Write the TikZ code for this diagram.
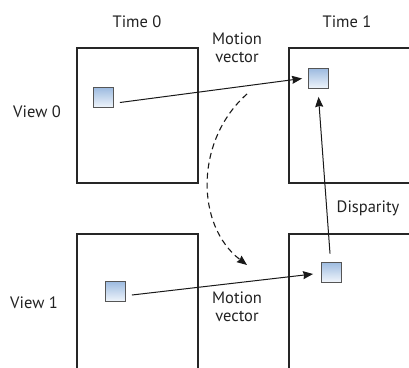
\documentclass[tikz,border=0pt]{standalone}
\usepackage{fontspec}
\setmainfont{PT Sans}
\usetikzlibrary{arrows.meta}
\definecolor{txt}{HTML}{222222}
\definecolor{sqtop}{HTML}{9DBBE0}
\definecolor{sqbot}{HTML}{F0F5FB}
\definecolor{sqborder}{HTML}{555555}
\tikzset{
  frame/.style={draw=black!85, line width=1.8pt},
  blk/.style={draw=sqborder, line width=0.9pt, top color=sqtop, bottom color=sqbot, minimum size=20pt, inner sep=0pt},
  lbl/.style={text=txt, font=\fontsize{16.5}{19}\selectfont, inner sep=0pt, align=center},
  vec/.style={draw=black!90, line width=1pt, -{Stealth[length=10pt,width=8pt,inset=1pt]}},
  dvec/.style={vec, dash pattern=on 6pt off 4pt, line width=1.1pt}
}
\begin{document}
\begin{tikzpicture}[x=1pt,y=-1pt]
\clip (0,0) rectangle (409,367);
\fill[white] (0,0) rectangle (409,367);
% frames
\draw[frame] (77,48) rectangle (198,183);
\draw[frame] (289,48) rectangle (440,183);
\draw[frame] (77,234) rectangle (198,390);
\draw[frame] (289,234) rectangle (440,390);
% labels
\node[lbl] (t0) at (137,22) {Time 0};
\node[lbl] (t1) at (347,22) {Time 1};
\node[lbl] (v0) at (37,112) {View 0};
\node[lbl] (v1) at (34,303) {View 1};
\node[lbl] (mv1) at (237,48) {Motion\\[-1pt]vector};
\node[lbl] (mv2) at (237,307) {Motion\\[-1pt]vector};
\node[lbl] (disp) at (368,208) {Disparity};
% blocks
\node[blk] (a) at (103.5,97.5) {};
\node[blk] (b) at (318.5,78.5) {};
\node[blk] (c) at (115.5,291.5) {};
\node[blk] (d) at (331.5,272) {};
% vectors
\draw[vec] ([xshift=6pt,yshift=-5pt]a.east) -- ([xshift=-6pt]b.west);
\draw[vec] ([xshift=6pt,yshift=-3.5pt]c.east) -- ([xshift=-8pt,yshift=-2pt]d.west);
\draw[vec] ([xshift=-1.5pt,yshift=8pt]d.north) -- ([yshift=-8pt]b.south);
\coordinate (ds) at (247,94);
\coordinate (de) at (247,265);
\draw[dvec] (ds) .. controls (195,140) and (195,225) .. (de);
\end{tikzpicture}
\end{document}
